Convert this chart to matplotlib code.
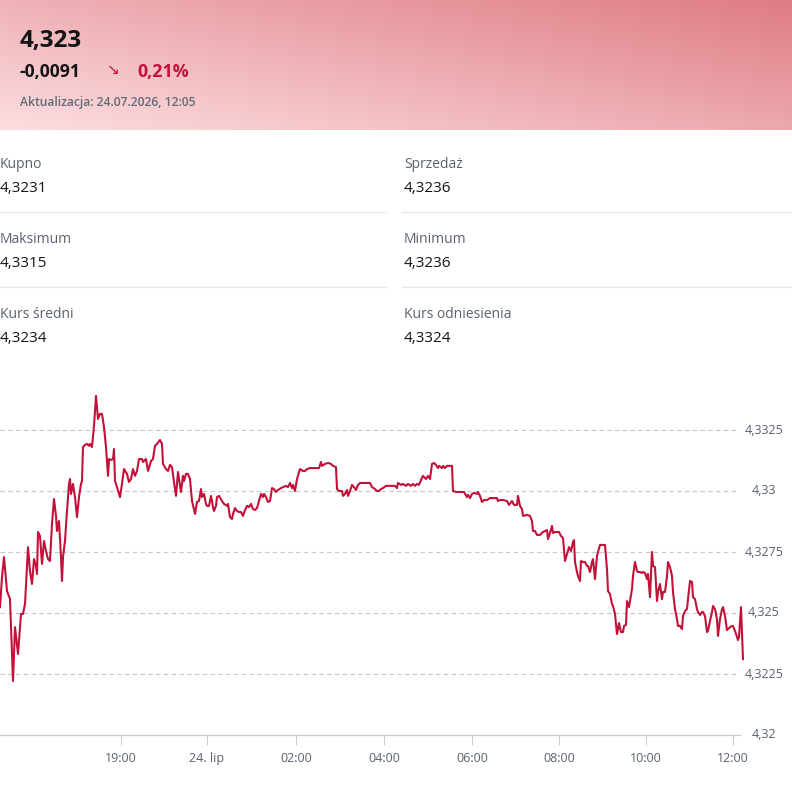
import numpy as np
import matplotlib
matplotlib.use("Agg")
import matplotlib.pyplot as plt
from matplotlib.transforms import blended_transform_factory

plt.rcParams['font.family'] = ['Open Sans', 'DejaVu Sans']

W, H = 792, 790

# quote header
price_now = "4,323"
change_abs = "-0,0091"
change_pct = "0,21%"
updated = "Aktualizacja: 24.07.2026, 12:05"

# stats table
stat_labels = [["Kupno", "Sprzedaż"], ["Maksimum", "Minimum"], ["Kurs średni", "Kurs odniesienia"]]
stat_values = [["4,3231", "4,3236"], ["4,3315", "4,3236"], ["4,3234", "4,3324"]]

# intraday series (ordinal positions, night hours compressed)
pos = [0, 2, 4, 7, 10, 13, 15, 18, 21, 23, 25, 28, 30, 32, 34, 36, 37, 38, 40, 42,
       44, 46, 48, 50, 52, 54, 56, 57, 59, 61, 62, 63, 65, 67, 69, 70, 71, 73, 75, 77,
       79, 81, 82, 83, 85, 87, 89, 90, 92, 94, 96, 98, 100, 102, 104, 106, 108, 109, 111, 113,
       114, 115, 117, 120, 122, 124, 127, 129, 131, 133, 135, 137, 139, 142, 143, 146, 148, 151, 153, 155,
       157, 160, 162, 163, 166, 168, 170, 172, 174, 176, 178, 179, 181, 183, 184, 186, 188, 190, 192, 195,
       197, 199, 201, 202, 204, 206, 207, 209, 211, 213, 214, 216, 217, 219, 222, 224, 227, 228, 230, 232,
       233, 235, 237, 239, 241, 243, 245, 247, 249, 251, 253, 255, 257, 259, 261, 263, 264, 266, 268, 270,
       272, 274, 276, 278, 281, 283, 286, 288, 290, 292, 293, 295, 297, 300, 303, 305, 307, 310, 313, 317,
       319, 321, 322, 325, 328, 331, 333, 336, 337, 339, 342, 343, 345, 347, 348, 350, 352, 354, 356, 358,
       360, 363, 367, 370, 372, 375, 377, 379, 381, 383, 386, 388, 392, 395, 397, 398, 401, 403, 406, 408,
       411, 413, 415, 417, 419, 421, 423, 426, 428, 430, 432, 434, 436, 438, 439, 442, 443, 445, 447, 450,
       452, 453, 456, 459, 462, 464, 467, 468, 470, 472, 474, 477, 478, 480, 482, 484, 487, 490, 493, 497,
       498, 500, 503, 507, 509, 512, 514, 517, 518, 520, 522, 523, 527, 530, 532, 533, 535, 537, 540, 543,
       545, 547, 548, 550, 552, 553, 555, 557, 559, 561, 563, 564, 565, 567, 569, 571, 573, 574, 575, 577,
       578, 580, 581, 583, 585, 587, 588, 590, 592, 593, 595, 597, 598, 600, 602, 604, 605, 607, 608, 610,
       612, 613, 615, 617, 618, 619, 621, 623, 624, 626, 627, 629, 632, 633, 635, 637, 638, 640, 642, 643,
       645, 647, 648, 650, 652, 653, 655, 657, 658, 660, 662, 663, 665, 667, 668, 670, 672, 673, 675, 677,
       678, 680, 682, 683, 685, 687, 688, 690, 692, 693, 695, 697, 698, 700, 702, 703, 705, 707, 708, 710,
       712, 713, 715, 717, 718, 720, 722, 723, 725, 727, 728, 730, 732, 733, 735, 737, 738, 739, 741, 742,
       743]
rate = [4.32524, 4.32647, 4.32729, 4.32590, 4.32557, 4.32221, 4.32442, 4.32332, 4.32496, 4.32496,
        4.32537, 4.32770, 4.32672, 4.32619, 4.32721, 4.32693, 4.32660, 4.32832, 4.32816, 4.32701,
        4.32795, 4.32754, 4.32721, 4.32713, 4.32865, 4.32967, 4.32898, 4.32836, 4.32877, 4.32729,
        4.32631, 4.32729, 4.32795, 4.32918, 4.33029, 4.33049, 4.32988, 4.33029, 4.32975, 4.32893,
        4.32975, 4.33029, 4.33041, 4.33180, 4.33189, 4.33193, 4.33185, 4.33193, 4.33180, 4.33267,
        4.33390, 4.33295, 4.33316, 4.33316, 4.33262, 4.33180, 4.33062, 4.33131, 4.33127, 4.33131,
        4.33172, 4.33041, 4.33016, 4.32975, 4.33029, 4.33090, 4.33070, 4.33037, 4.33049, 4.33090,
        4.33062, 4.33082, 4.33131, 4.33131, 4.33119, 4.33131, 4.33082, 4.33123, 4.33131, 4.33185,
        4.33193, 4.33209, 4.33193, 4.33111, 4.33090, 4.33082, 4.33107, 4.33098, 4.33037, 4.32980,
        4.33078, 4.33049, 4.32996, 4.33062, 4.33041, 4.33070, 4.33070, 4.33049, 4.32959, 4.32906,
        4.32955, 4.32959, 4.33008, 4.32975, 4.32988, 4.32947, 4.32939, 4.32939, 4.32980, 4.32934,
        4.32918, 4.32939, 4.32975, 4.32980, 4.32959, 4.32947, 4.32939, 4.32947, 4.32893, 4.32885,
        4.32906, 4.32930, 4.32918, 4.32914, 4.32914, 4.32898, 4.32922, 4.32939, 4.32934, 4.32947,
        4.32926, 4.32922, 4.32930, 4.32959, 4.32988, 4.32975, 4.32988, 4.32975, 4.32955, 4.32959,
        4.33012, 4.33008, 4.32996, 4.33004, 4.33012, 4.33016, 4.33021, 4.33016, 4.33033, 4.33012,
        4.33025, 4.33000, 4.33049, 4.33090, 4.33082, 4.33082, 4.33090, 4.33094, 4.33094, 4.33094,
        4.33094, 4.33119, 4.33103, 4.33111, 4.33115, 4.33111, 4.33103, 4.33098, 4.33008, 4.33000,
        4.33000, 4.32980, 4.32988, 4.33004, 4.32980, 4.33000, 4.33025, 4.33016, 4.33004, 4.33025,
        4.33033, 4.33033, 4.33033, 4.33033, 4.33016, 4.33008, 4.33000, 4.33000, 4.33008, 4.33012,
        4.33021, 4.33021, 4.33021, 4.33021, 4.33012, 4.33033, 4.33025, 4.33029, 4.33021, 4.33029,
        4.33021, 4.33029, 4.33021, 4.33029, 4.33025, 4.33045, 4.33062, 4.33049, 4.33062, 4.33049,
        4.33111, 4.33115, 4.33107, 4.33094, 4.33103, 4.33094, 4.33103, 4.33094, 4.33103, 4.33103,
        4.33103, 4.33000, 4.32996, 4.32996, 4.32996, 4.32996, 4.32975, 4.32984, 4.32971, 4.32988,
        4.32992, 4.32988, 4.32996, 4.32980, 4.32955, 4.32963, 4.32963, 4.32971, 4.32971, 4.32971,
        4.32959, 4.32963, 4.32963, 4.32959, 4.32943, 4.32959, 4.32943, 4.32943, 4.32980, 4.32939,
        4.32926, 4.32898, 4.32902, 4.32898, 4.32877, 4.32836, 4.32836, 4.32820, 4.32820, 4.32832,
        4.32836, 4.32840, 4.32803, 4.32828, 4.32857, 4.32828, 4.32832, 4.32832, 4.32832, 4.32816,
        4.32807, 4.32762, 4.32713, 4.32742, 4.32770, 4.32754, 4.32791, 4.32799, 4.32709, 4.32668,
        4.32652, 4.32631, 4.32713, 4.32709, 4.32709, 4.32693, 4.32693, 4.32668, 4.32709, 4.32721,
        4.32639, 4.32734, 4.32750, 4.32779, 4.32779, 4.32779, 4.32779, 4.32680, 4.32590, 4.32578,
        4.32537, 4.32529, 4.32496, 4.32414, 4.32434, 4.32459, 4.32422, 4.32422, 4.32447, 4.32451,
        4.32549, 4.32524, 4.32598, 4.32652, 4.32709, 4.32672, 4.32668, 4.32668, 4.32664, 4.32668,
        4.32664, 4.32639, 4.32660, 4.32565, 4.32750, 4.32693, 4.32688, 4.32549, 4.32586, 4.32619,
        4.32557, 4.32586, 4.32586, 4.32652, 4.32709, 4.32688, 4.32652, 4.32586, 4.32516, 4.32475,
        4.32447, 4.32447, 4.32434, 4.32488, 4.32508, 4.32516, 4.32557, 4.32631, 4.32627, 4.32565,
        4.32557, 4.32516, 4.32504, 4.32492, 4.32504, 4.32504, 4.32488, 4.32422, 4.32426, 4.32467,
        4.32504, 4.32529, 4.32516, 4.32475, 4.32406, 4.32475, 4.32516, 4.32524, 4.32488, 4.32430,
        4.32434, 4.32442, 4.32447, 4.32447, 4.32426, 4.32401, 4.32389, 4.32401, 4.32524, 4.32422,
        4.32311]

tick_pos = [121, 207, 296, 384, 472, 559, 646, 733]
tick_labels = ['19:00', '24. lip', '02:00', '04:00', '06:00', '08:00', '10:00', '12:00']
y_ticks = [4.32, 4.3225, 4.325, 4.3275, 4.33, 4.3325]

LINE = '#c2123a'
GREY = '#5a6170'
DARK = '#141414'


def fx(x):
    return x / W


def fy(y):
    return 1 - y / H


fig = plt.figure(figsize=(W / 100, H / 100), dpi=100)
fig.patch.set_facecolor('white')

# header with diagonal pink gradient (light bottom-left -> dark top-right)
hdr = fig.add_axes([0, fy(130), 1, 130 / H])
xx, yy = np.meshgrid(np.linspace(0, 1, 400), np.linspace(0, 1, 80))
t = 0.55 * xx + 0.45 * (1 - yy)
light = np.array([252, 222, 225]) / 255
dark = np.array([223, 124, 131]) / 255
grad = light[None, None, :] * (1 - t[..., None]) + dark[None, None, :] * t[..., None]
hdr.imshow(grad, aspect='auto', extent=[0, 1, 1, 0], interpolation='bilinear')
hdr.set_axis_off()

fig.text(fx(20), fy(47), price_now, fontsize=17.5, fontweight='bold', color=DARK,
         ha='left', va='baseline')
fig.text(fx(20), fy(77), change_abs, fontsize=12.6, fontweight='bold', color=DARK,
         ha='left', va='baseline')
fig.text(fx(113), fy(70), '↘', fontsize=11, color=LINE, ha='center', va='center',
         family=['DejaVu Sans'])
fig.text(fx(137), fy(77), change_pct, fontsize=12.8, fontweight='bold', color=LINE,
         ha='left', va='baseline')
fig.text(fx(20), fy(106), updated, fontsize=8.7, fontweight='semibold', color='#646b76',
         ha='left', va='baseline')

# stats grid
col_x = [0, 404]
row_y = [168, 243, 318]
for r in range(3):
    for c in range(2):
        fig.text(fx(col_x[c]), fy(row_y[r]), stat_labels[r][c], fontsize=10,
                 color=GREY, ha='left', va='baseline')
        fig.text(fx(col_x[c]), fy(row_y[r] + 24), stat_values[r][c], fontsize=11,
                 color=DARK, ha='left', va='baseline')
for ysep in [212, 287]:
    fig.add_artist(plt.Line2D([fx(0), fx(386)], [fy(ysep), fy(ysep)], color='#e6e8eb', lw=1))
    fig.add_artist(plt.Line2D([fx(402), fx(792)], [fy(ysep), fy(ysep)], color='#e6e8eb', lw=1))

# chart
ax = fig.add_axes([0, fy(735), fx(745), (735 - 380) / H])
ax.set_xlim(0, 745)
ax.set_ylim(4.32, 4.32 + 355 * 0.0025 / 61)

# dashed grid lines stop a little short of the label column
ax.hlines(y_ticks[1:], 0, 738, colors='#c8c8c8', lw=0.8, linestyles=(0, (4, 3)), zorder=1)
ax.plot(pos, rate, color=LINE, lw=1.5, solid_joinstyle='round', zorder=3)

ax.set_yticks([])
ax.set_xticks(tick_pos)
ax.set_xticklabels(tick_labels)
ax.tick_params(axis='x', length=7, width=0.8, color='#cccccc', pad=5,
               labelsize=9, labelcolor=GREY)

for s in ['top', 'right', 'left']:
    ax.spines[s].set_visible(False)
ax.spines['bottom'].set_color('#cccccc')
ax.spines['bottom'].set_linewidth(0.9)
ax.spines['bottom'].set_bounds(0, 740)
ax.set_facecolor('none')

trans = blended_transform_factory(fig.transFigure, ax.transData)
for v in y_ticks:
    lab = f"{v:.4f}".rstrip('0').replace('.', ',')
    ax.text(fx(764), v, lab, transform=trans, ha='center', va='center',
            fontsize=9, color=GREY, clip_on=False)

fig.savefig('out.png', dpi=100)
plt.close(fig)
